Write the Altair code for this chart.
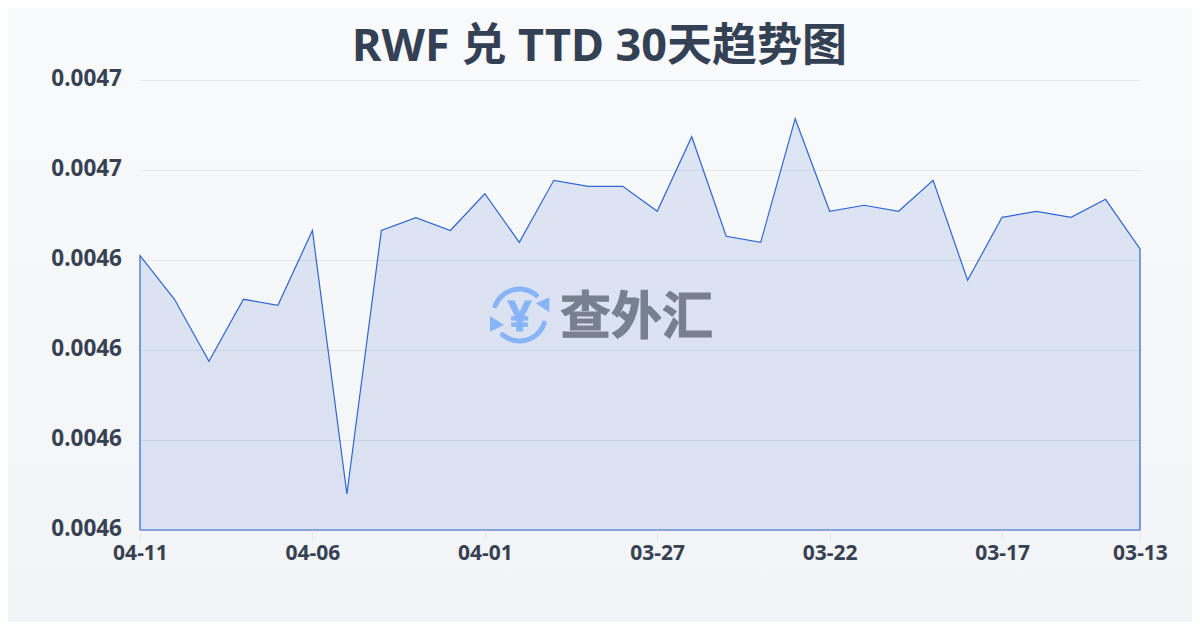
import json
import altair as alt
import pandas as pd

FONT = '"Noto Sans","Noto Sans CJK SC",sans-serif'
CJK = '"Noto Sans CJK SC",sans-serif'
INK = "#374151"
BLUE = "#8ab4f8"

TITLE = "RWF 兑 TTD 30天趋势图"
dates = ["04-11","04-10","04-09","04-08","04-07","04-06","04-05","04-04","04-03","04-02",
         "04-01","03-31","03-30","03-29","03-28","03-27","03-26","03-25","03-24","03-23",
         "03-22","03-21","03-20","03-19","03-18","03-17","03-16","03-15","03-14","03-13"]
rates = [0.00464096,0.00463127,0.00461749,0.00463127,0.00462993,0.00464656,0.00458800,0.00464656,0.00464940,0.00464656,
         0.00465473,0.00464393,0.00465771,0.00465638,0.00465638,0.00465082,0.00466740,0.00464527,0.00464393,0.00467140,
         0.00465082,0.00465216,0.00465082,0.00465771,0.00463549,0.00464949,0.00465082,0.00464949,0.00465349,0.00464244]
x_tick_pos = [0,5,10,15,20,25,29]
y_ticks = [0.00458,0.00460,0.00462,0.00464,0.00466,0.00468]
y_domain = [0.00458,0.00468]

df = pd.DataFrame({"i": list(range(len(dates))), "date": dates, "rate": rates})
one = pd.DataFrame({"k": [0]})

x_axis = alt.Axis(values=x_tick_pos, labelExpr=json.dumps(dates) + "[datum.value]", title=None, labelAngle=0,
                  domain=False, grid=False, tickColor="#e5e7eb", tickSize=10, labelPadding=2, labelFont=FONT,
                  labelFontSize=21, labelFontWeight="bold", labelColor=INK, zindex=1, labelOverlap=False,
                  labelFlush=False, labelBound=False)
y_axis = alt.Axis(values=y_ticks, format=".4f", title=None, domain=False, ticks=False,
                  labelPadding=18.5, labelFont=FONT, labelFontSize=22.5, labelFontWeight="bold", labelOffset=-2,
                  labelColor=INK, gridColor="#0f172a", gridOpacity=0.08, zindex=1)
y_scale = alt.Scale(domain=y_domain, zero=False, nice=False)
x_scale = alt.Scale(domain=[0, len(dates) - 1], nice=False, zero=False)

bg = alt.Chart(one).mark_rect(
    color=alt.LinearGradient(gradient="linear", x1=0, x2=0, y1=0, y2=1,
                             stops=[alt.GradientStop(color="#f8fafc", offset=0),
                                    alt.GradientStop(color="#f2f4f7", offset=1)]),
    clip=False,
).encode(x=alt.value(-132), x2=alt.value(1052), y=alt.value(-72), y2=alt.value(542))

area = alt.Chart(df).mark_area(fill="#2f5cc8", fillOpacity=0.13, stroke="#2f66d0", strokeWidth=1.2).encode(
    x=alt.X("i:Q", scale=x_scale, axis=x_axis),
    y=alt.Y("rate:Q", stack=None, scale=y_scale, axis=y_axis))

title = alt.Chart(one).mark_text(text=TITLE, font=FONT, fontSize=45, fontWeight="bold", color="#344054",
                                 align="center", baseline="alphabetic").encode(
    x=alt.value(459.5), y=alt.value(-19.5))

def arc(t0, t1):
    return alt.Chart(one).mark_arc(theta=t0, theta2=t1, radius=28.5, radius2=23.5, cornerRadius=2,
                                   color=BLUE, clip=False).encode(x=alt.value(379.5), y=alt.value(235))

arc1 = arc(4.98, 7.08)
arc2 = arc(1.80, 3.95)
yen = alt.Chart(one).mark_text(text="¥", font=FONT, fontSize=42, fontWeight="bold", color=BLUE,
                               stroke=BLUE, strokeWidth=0.8, align="center", baseline="alphabetic").encode(
    x=alt.value(379.5), y=alt.value(250.5))
tri1 = alt.Chart(one).mark_point(shape="M 29.8,-17.7 L 29.8,-2.7 L 16.2,-11.7 Z", size=4, filled=True,
                                 color=BLUE, opacity=1).encode(x=alt.value(379.5), y=alt.value(235))
tri2 = alt.Chart(one).mark_point(shape="M -29.5,1 L -29.5,16.7 L -15.5,10 Z", size=4, filled=True,
                                 color=BLUE, opacity=1).encode(x=alt.value(379.5), y=alt.value(235))
mark_name = alt.Chart(one).mark_text(text="查外汇", font=CJK, fontSize=51, fontWeight="bold", color="#78808f",
                                     stroke="#78808f", strokeWidth=1, align="left", baseline="alphabetic").encode(
    x=alt.value(420), y=alt.value(254))

chart = alt.layer(bg, area, title, arc1, arc2, yen, tri1, tri2, mark_name).properties(
    width=1000, height=450,
    padding={"left": 132, "top": 72, "right": 52, "bottom": 92},
    autosize=alt.AutoSizeParams(type="none"),
    background="#f6f8fa",
).configure_view(stroke=None)

chart.save("out.html", embed_options={"renderer": "svg", "actions": False})
